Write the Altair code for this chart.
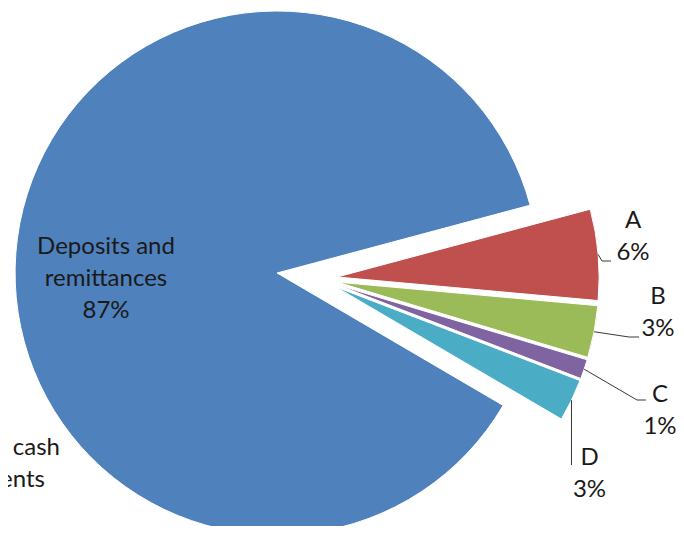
import math
import altair as alt
import pandas as pd

# ---- data ----
categories = ["A", "B", "C", "D", "Deposits and remittances"]
values = [5.6, 3.2, 1.2, 2.6, 87.4]
label_texts = ["A\n6%", "B\n3%", "C\n1%", "D\n3%", "Deposits and\nremittances\n87%"]
extra_label_text = "Cash and cash\nequivalents\n0%"

# ---- style / layout ----
colors = ["#C0504D", "#9BBB59", "#8064A2", "#4BACC6", "#4F81BD"]
W, H = 668, 518
CX, CY = 310.6, 270.6      # pie centre (px)
R = 262                    # pie radius (px)
START_DEG = 75.0           # angle where slice A begins (clockwise from 12 o'clock)
explode = [18.6, 18.6, 18.6, 18.6, 41.9]
label_pos = [(625, 220), (650, 296), (652, 394), (581.5, 457), (98, 246)]
extra_label_pos = (-23, 447)
leader_bends = {
    "A": [(594, 253), (603, 253)],
    "B": [(621, 329), (631, 329)],
    "C": [(629, 392), (638, 392)],
    "D": [None],  # vertical down to label line
}
FONT = "Lato"
FS = 24
TEXT_COLOR = "#1a1a1a"

total = sum(values)
rows, leader_rows = [], []
cum = 0.0
for i, (cat, v) in enumerate(zip(categories, values)):
    start, end = cum, cum + v
    cum = end
    mid = math.radians(START_DEG + (start + v / 2) / total * 360)
    cx = CX + explode[i] * math.sin(mid)
    cy = CY - explode[i] * math.cos(mid)
    rows.append(dict(category=cat, start=start, end=end, cx=cx, cy=cy))
    if cat in leader_bends:
        ax = cx + R * math.sin(mid)
        ay = cy - R * math.cos(mid)
        pts = [(ax, ay)]
        for p in leader_bends[cat]:
            if p is None:
                pts.append((ax, label_pos[i][1]))
            else:
                pts.append(p)
        for k, (px, py) in enumerate(pts):
            leader_rows.append(dict(category=cat, order=k, x=px, y=py))

df = pd.DataFrame(rows)
leaders = pd.DataFrame(leader_rows)
labels = pd.DataFrame(
    dict(
        text=label_texts + [extra_label_text],
        x=[p[0] for p in label_pos] + [extra_label_pos[0]],
        y=[p[1] for p in label_pos] + [extra_label_pos[1]],
    )
)

a0 = math.radians(START_DEG)

pie = alt.Chart(df).mark_arc(outerRadius=R, stroke="white", strokeWidth=1).encode(
    theta=alt.Theta("start:Q", stack=None,
                    scale=alt.Scale(domain=[0, total], range=[a0, a0 + 2 * math.pi])),
    theta2="end:Q",
    x=alt.X("cx:Q", scale=None, axis=None),
    y=alt.Y("cy:Q", scale=None, axis=None),
    color=alt.Color("category:N", scale=alt.Scale(domain=categories, range=colors), legend=None),
)

lead = alt.Chart(leaders).mark_line(color="#3a3a3a", strokeWidth=1).encode(
    x=alt.X("x:Q", scale=None, axis=None),
    y=alt.Y("y:Q", scale=None, axis=None),
    detail="category:N",
    order="order:O",
)

text = alt.Chart(labels).mark_text(
    align="center", baseline="alphabetic", font=FONT, fontSize=FS,
    lineHeight=32, lineBreak="\n", color=TEXT_COLOR,
).encode(
    x=alt.X("x:Q", scale=None, axis=None),
    y=alt.Y("y:Q", scale=None, axis=None),
    text="text:N",
)

chart = alt.layer(pie, lead, text).properties(
    width=W, height=H, padding=0, autosize="none"
).configure_view(stroke=None)

chart.save("out.html", embed_options={"renderer": "svg", "actions": False})
